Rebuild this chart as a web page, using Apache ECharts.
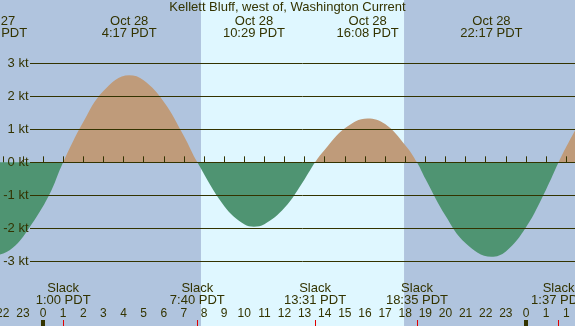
<!DOCTYPE html>
<html>
<head>
<meta charset="utf-8">
<title>Kellett Bluff, west of, Washington Current</title>
<script src="https://cdn.jsdelivr.net/npm/echarts@6/dist/echarts.min.js"></script>
<style>
html, body { margin: 0; padding: 0; background: #b0c4de; }
#main { width: 575px; height: 326px; }
</style>
</head>
<body>
<div id="main"></div>
<script>
// times are hours from Oct 28 00:00 PDT, speeds in knots
var hours = [-3, -2.33, -1.5, -0.7, 0.3, 1, 2, 3, 4.28, 5, 6, 7, 7.67, 9, 10, 10.48, 11, 12, 13, 13.52, 14, 15, 16.13, 17, 18, 18.58, 19, 20, 21, 22.28, 23, 24, 25, 25.62, 26, 27];
var knots = [-2.66, -2.8, -2.59, -2.0, -1.0, 0, 1.22, 2.16, 2.64, 2.49, 1.84, 0.8, 0, -1.32, -1.88, -1.95, -1.88, -1.38, -0.51, 0, 0.38, 1.03, 1.33, 1.16, 0.52, 0, -0.5, -1.62, -2.45, -2.86, -2.7, -1.97, -0.82, 0, 0.47, 1.59];

var eventTimes = [-2.33, 4.283, 10.483, 16.133, 22.283];
var eventLabels = ['Oct 27\n21:40 PDT', 'Oct 28\n4:17 PDT', 'Oct 28\n10:29 PDT', 'Oct 28\n16:08 PDT', 'Oct 28\n22:17 PDT'];

var slackTimes = [1.0, 7.667, 13.517, 18.583, 25.617];
var slackLabels = ['Slack\n1:00 PDT', 'Slack\n7:40 PDT', 'Slack\n13:31 PDT', 'Slack\n18:35 PDT', 'Slack\n1:37 PDT'];

var hourTicks = [-2, -1, 0, 1, 2, 3, 4, 5, 6, 7, 8, 9, 10, 11, 12, 13, 14, 15, 16, 17, 18, 19, 20, 21, 22, 23, 24, 25, 26];
var hourLabels = ['22', '23', '0', '1', '2', '3', '4', '5', '6', '7', '8', '9', '10', '11', '12', '13', '14', '15', '16', '17', '18', '19', '20', '21', '22', '23', '0', '1', '1'];
var midnights = [0, 24];

var ktLevels = [-3, -2, -1, 0, 1, 2, 3];
var daylight = [7.85, 17.94];

var FONT = 'Liberation Sans';
var INK = '#333300';
var NIGHT = '#b0c4de';
var DAY = '#dff7ff';
var FLOOD = '#bf9b7a';
var EBB = '#4f9472';

// x scale: 20.125 px per hour, midnight at x=43
var axisMin = -3, axisMax = 26.435;
var gridLeft = -17.37;
var lineStart = -0.646;   // grid lines start right of the kt labels

function findLabel(times, labels, v) {
    for (var i = 0; i < times.length; i++) {
        if (Math.abs(times[i] - v) < 1e-6) return labels[i];
    }
    return '';
}

function timeAxis(extra) {
    var ax = {
        type: 'value',
        min: axisMin,
        max: axisMax,
        position: 'bottom',
        z: 10,
        axisLine: {show: false},
        splitLine: {show: false},
        axisTick: {show: false},
        axisLabel: {show: false}
    };
    for (var k in extra) ax[k] = extra[k];
    return ax;
}

var levelLines = [];
for (var i = 0; i < ktLevels.length; i++) {
    levelLines.push([{coord: [lineStart, ktLevels[i]]}, {coord: [axisMax, ktLevels[i]]}]);
}

var currentData = [];
for (var j = 0; j < hours.length; j++) currentData.push([hours[j], knots[j]]);

var chart = echarts.init(document.getElementById('main'), null, {renderer: 'canvas'});
chart.setOption({
    animation: false,
    backgroundColor: NIGHT,
    textStyle: {fontFamily: FONT},
    title: {
        text: 'Kellett Bluff, west of, Washington Current',
        left: 'center',
        top: 0,
        padding: [1, 0, 0, 0],
        textStyle: {fontFamily: FONT, fontSize: 13, fontWeight: 'normal', color: INK, lineHeight: 13}
    },
    grid: {left: gridLeft, right: 0, top: 0, bottom: 0, containLabel: false, outerBoundsMode: 'none'},
    xAxis: [
        // hour ticks and numbers
        timeAxis({
            axisTick: {show: true, inside: true, length: 6, customValues: hourTicks, lineStyle: {color: INK, width: 1}},
            axisLabel: {
                show: true, inside: true, margin: 6, customValues: hourTicks,
                fontFamily: FONT, fontSize: 12, color: INK, lineHeight: 12,
                formatter: function (v) { return findLabel(hourTicks, hourLabels, v); }
            }
        }),
        // midnight marks
        timeAxis({
            axisTick: {show: true, inside: true, length: 6, customValues: midnights, lineStyle: {color: INK, width: 4}}
        }),
        // slack times
        timeAxis({
            axisTick: {show: true, inside: true, length: 6, customValues: slackTimes, lineStyle: {color: '#e00000', width: 1}},
            axisLabel: {
                show: true, inside: true, margin: 20, customValues: slackTimes,
                fontFamily: FONT, fontSize: 13, color: INK, lineHeight: 12, align: 'center',
                formatter: function (v) { return findLabel(slackTimes, slackLabels, v); }
            }
        }),
        // max / min current times at the top
        timeAxis({
            position: 'top',
            axisLabel: {
                show: true, inside: true, margin: 15, customValues: eventTimes,
                fontFamily: FONT, fontSize: 13, color: INK, lineHeight: 12, align: 'center',
                formatter: function (v) { return findLabel(eventTimes, eventLabels, v); }
            }
        })
    ],
    yAxis: {
        type: 'value',
        min: -4.96,
        max: 4.92,
        z: 10,
        axisLine: {show: false},
        axisTick: {show: false},
        splitLine: {show: false},
        axisLabel: {
            customValues: ktLevels,
            margin: -45.9,
            fontFamily: FONT, fontSize: 13, color: INK,
            formatter: function (v) { return v + ' kt'; }
        }
    },
    visualMap: {
        show: false,
        seriesIndex: 1,
        dimension: 1,
        pieces: [{gte: -10, lt: 0, color: EBB}, {gte: 0, lte: 10, color: FLOOD}]
    },
    series: [
        {
            type: 'line',
            data: [],
            z: 1,
            silent: true,
            markArea: {
                silent: true,
                itemStyle: {color: DAY},
                data: [[{xAxis: daylight[0]}, {xAxis: daylight[1]}]]
            },
            markLine: {
                silent: true,
                symbol: 'none',
                label: {show: false},
                lineStyle: {color: INK, width: 1, type: 'solid'},
                data: levelLines
            }
        },
        {
            name: 'Current',
            type: 'line',
            z: 2,
            smooth: 0.4,
            showSymbol: false,
            data: currentData,
            lineStyle: {width: 0},
            areaStyle: {opacity: 1}
        }
    ]
});
</script>
</body>
</html>
